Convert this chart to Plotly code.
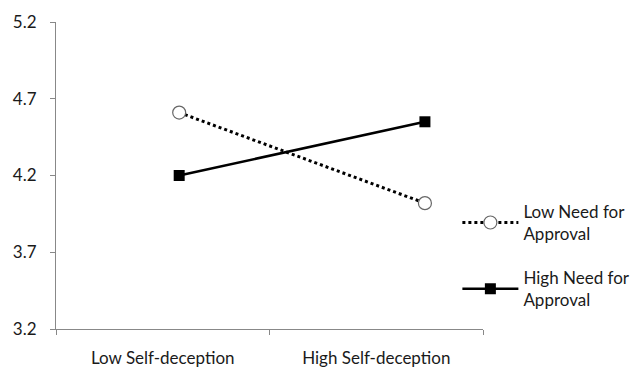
import plotly.graph_objects as go

categories = ["Low Self-deception", "High Self-deception"]
low_need = [4.61, 4.02]
high_need = [4.20, 4.55]
series_names = ["Low Need for<br>Approval", "High Need for<br>Approval"]
y_ticks = [3.2, 3.7, 4.2, 4.7, 5.2]

# point positions within the category bands (as drawn in the reference)
point_x = [0.577, 1.728]
label_x = [0.5, 1.5]

fig = go.Figure()
fig.add_trace(go.Scatter(
    x=point_x, y=low_need, name=series_names[0], mode="lines+markers",
    legendgroup="low",
    line=dict(color="black", width=3, dash="dot"),
    marker=dict(symbol="circle", size=13, color="white",
                line=dict(color="#666666", width=1.2)),
))
fig.add_trace(go.Scatter(
    x=point_x, y=high_need, name=series_names[1], mode="lines+markers",
    legendgroup="high",
    line=dict(color="black", width=2.5),
    marker=dict(symbol="square", size=11, color="black"),
))

fig.update_layout(
    width=636, height=364,
    margin=dict(l=48, r=161, t=14, b=43, autoexpand=False),
    paper_bgcolor="white", plot_bgcolor="white",
    font=dict(family="Lato, Open Sans, sans-serif", size=17, color="#1a1a1a"),
    legend=dict(x=0.94, y=0.44, xanchor="left", yanchor="top",
                font=dict(size=17), traceorder="grouped", tracegroupgap=19,
                itemwidth=56, bgcolor="rgba(0,0,0,0)"),
    xaxis=dict(range=[0, 2], tickvals=label_x, ticktext=categories,
               ticks="", showgrid=False, zeroline=False, automargin=False,
               showline=True, linecolor="#888888", linewidth=1.2,
               tickfont=dict(size=17), ticklabelstandoff=13,
               minor=dict(tickvals=[0, 1, 2], ticks="outside", ticklen=5,
                          tickcolor="#888888", showgrid=False)),
    yaxis=dict(range=[3.2, 5.2], tickvals=y_ticks,
               ticktext=[f"{v:.1f}" for v in y_ticks],
               ticks="outside", ticklen=5, tickcolor="#888888",
               showgrid=False, zeroline=False, automargin=False,
               showline=True, linecolor="#888888", linewidth=1.2,
               tickfont=dict(size=17), ticklabelstandoff=10),
)

fig.write_html("out.html")
